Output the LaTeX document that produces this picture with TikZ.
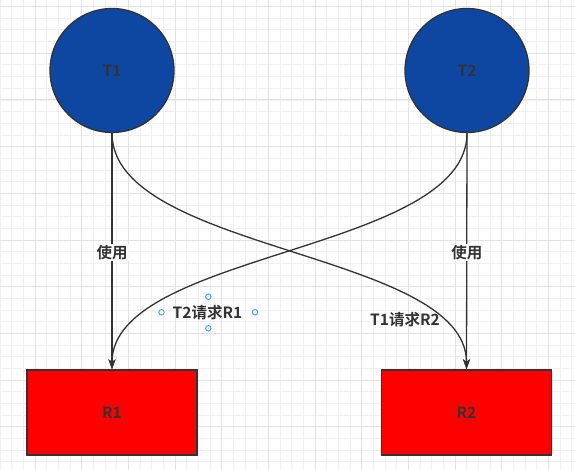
\documentclass[tikz,border=0pt]{standalone}
\usepackage{fontspec}
\newfontfamily\lbl{Noto Sans CJK SC Bold}
\usetikzlibrary{arrows.meta}
\definecolor{stroke}{HTML}{333333}
\definecolor{txt}{HTML}{333333}
\definecolor{tblue}{HTML}{0D47A1}
\definecolor{rred}{HTML}{FF0000}
\definecolor{gridminor}{HTML}{F0F0F0}
\definecolor{gridmajor}{HTML}{E2E2E2}
\definecolor{handle}{HTML}{3D9BEB}
\tikzset{
  txtstyle/.style={font=\lbl\fontsize{15.5}{17}\selectfont, text=txt},
  task/.style={circle, draw=stroke, line width=1.3pt, fill=tblue, minimum size=124pt, inner sep=0pt, txtstyle},
  res/.style={rectangle, draw=stroke, line width=1.3pt, fill=rred, minimum width=170pt, minimum height=85pt, inner sep=0pt, txtstyle},
  edge/.style={draw=stroke, line width=1.3pt, -{Stealth[length=10pt,width=7pt,inset=2.5pt]}},
  elabel/.style={txtstyle, fill=white, inner sep=1pt},
  flabel/.style={txtstyle, inner sep=1pt},
  hdl/.style={circle, draw=handle, fill=white, line width=0.9pt, minimum size=5.5pt, inner sep=0pt}
}
\begin{document}
\begin{tikzpicture}[x=1pt,y=-1pt]
\useasboundingbox (0,0) rectangle (575,470);
\fill[white] (0,0) rectangle (575,470);
% grid
\foreach \k in {0,...,49} {
  \draw[gridminor, line width=1pt] ({\k*11.667},0) -- ({\k*11.667},470);
}
\foreach \k in {0,...,40} {
  \draw[gridminor, line width=1pt] (0,{6.667+\k*11.667}) -- (575,{6.667+\k*11.667});
}
\foreach \k in {0,...,11} {
  \draw[gridmajor, line width=1pt] ({35+\k*46.667},0) -- ({35+\k*46.667},470);
}
\foreach \k in {0,...,10} {
  \draw[gridmajor, line width=1pt] (0,{6.667+\k*46.667}) -- (575,{6.667+\k*46.667});
}
% nodes
\node[task] (T1) at (112,70.5) {T1};
\node[task] (T2) at (467,70.5) {T2};
\node[res] (R1) at (112,412.5) {R1};
\node[res] (R2) at (466.5,412.5) {R2};
% edges
\draw[edge] (T1.south) -- node[elabel, pos=0.505] (u1) {使用} (R1.north);
\draw[edge] (T2.south) -- node[elabel, pos=0.505] (u2) {使用} (R2.north);
\draw[edge] (T1.south) .. controls +(0,119) and +(0,-118) .. (R2.north);
\draw[edge] (T2.south) .. controls +(0,119) and +(0,-118) .. (R1.north);
% free labels
\node[flabel] (l1) at (207.5,313) {T2请求R1};
\node[flabel] (l2) at (405,320) {T1请求R2};
% selection handles
\node[hdl] (h1) at (161.5,312.3) {};
\node[hdl] (h2) at (208.3,296.7) {};
\node[hdl] (h3) at (255,312.3) {};
\node[hdl] (h4) at (208.3,328.3) {};
\end{tikzpicture}
\end{document}
